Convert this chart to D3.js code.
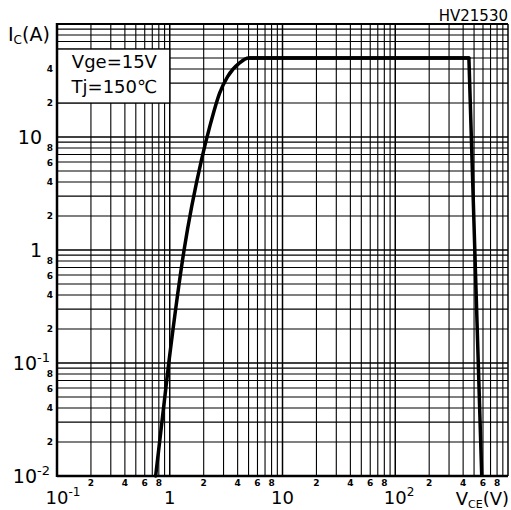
<!DOCTYPE html>
<html><head><meta charset="utf-8">
<script src="https://cdn.jsdelivr.net/npm/d3@7/dist/d3.min.js"></script>
<style>
html,body{margin:0;padding:0;background:#fff;}
svg{display:block;}
text{font-family:"DejaVu Sans",sans-serif;fill:#000;}
</style></head>
<body>
<script>
// ---- data ----
const xDecades = [0.1, 1, 10, 100, 1000];
const yDecades = [0.01, 0.1, 1, 10, 100];
const minorMult = [2, 3, 4, 5, 6, 7, 8, 9];
const xMinorLabels = [2, 4, 6, 8];
const yMinorLabels = [2, 4, 6, 8];
const yTopMinorLabels = [2, 4];
const xDecadeBase = ["10", "1", "10", "10"];
const xDecadeSup = ["-1", "", "", "2"];
const yDecadeBase = ["10", "10", "1", "10"];
const yDecadeSup = ["-2", "-1", "", ""];
const vce = [0.75, 0.98, 1.34, 1.91, 2.26, 2.77, 3.26, 4.16, 5.0, 450, 585];
const ic  = [0.01, 0.1, 1, 6.25, 12.3, 24.5, 34.2, 45.2, 50, 50, 0.01];
const legendLines = ["Vge=15V", "Tj=150\u2103"];
const title = "HV21530";

// ---- layout ----
const W = 511, H = 510;
const L = 57, R = 508, T = 24, B = 476;

const svg = d3.select("body").append("svg").attr("width", W).attr("height", H);
const x = d3.scaleLog().domain([0.1, 1000]).range([L, R]);
const y = d3.scaleLog().domain([0.01, 100]).range([B, T]);

// grid values
const gridX = [], gridY = [];
xDecades.forEach((d, i) => { gridX.push(d); if (i < xDecades.length - 1) minorMult.forEach(m => gridX.push(d * m)); });
yDecades.forEach((d, i) => { gridY.push(d); if (i < yDecades.length - 1) minorMult.forEach(m => gridY.push(d * m)); });

const g = svg.append("g");
g.selectAll("line.gx").data(gridX).enter().append("line")
  .attr("x1", d => x(d)).attr("x2", d => x(d)).attr("y1", T).attr("y2", B)
  .attr("stroke", "#000").attr("stroke-width", d => xDecades.includes(d) ? 1.5 : 1.1);
g.selectAll("line.gy").data(gridY).enter().append("line")
  .attr("y1", d => y(d)).attr("y2", d => y(d)).attr("x1", L).attr("x2", R)
  .attr("stroke", "#000").attr("stroke-width", d => yDecades.includes(d) ? 1.5 : 1.1);

// legend box (white) spanning 0.1..1 V and 20..60 A
g.append("rect").attr("x", x(0.1)).attr("y", y(60)).attr("width", x(1) - x(0.1)).attr("height", y(20) - y(60))
  .attr("fill", "#fff").attr("stroke", "#000").attr("stroke-width", 1.2);
legendLines.forEach((t, i) => {
  g.append("text").attr("x", (x(0.1) + x(1)) / 2 + 1).attr("y", 68 + i * 25)
    .attr("text-anchor", "middle").attr("font-size", 18).text(t);
});

// borders
g.append("line").attr("x1", L).attr("x2", L).attr("y1", T - 1).attr("y2", B + 1).attr("stroke", "#000").attr("stroke-width", 2.5);
g.append("line").attr("x1", L).attr("x2", R).attr("y1", B).attr("y2", B).attr("stroke", "#000").attr("stroke-width", 2.5);
g.append("line").attr("x1", L).attr("x2", R).attr("y1", T).attr("y2", T).attr("stroke", "#000").attr("stroke-width", 1.8);

// curve
const pts = vce.map((v, i) => [v, ic[i]]);
const lineCurve = d3.line().x(d => x(d[0])).y(d => y(d[1])).curve(d3.curveMonotoneX);
const lineLin = d3.line().x(d => x(d[0])).y(d => y(d[1]));
g.append("path").attr("d", lineCurve(pts.slice(0, -1))).attr("fill", "none")
  .attr("stroke", "#000").attr("stroke-width", 3.5).attr("stroke-linejoin", "round").attr("stroke-linecap", "round");
g.append("path").attr("d", lineLin(pts.slice(-3))).attr("fill", "none")
  .attr("stroke", "#000").attr("stroke-width", 3.5).attr("stroke-linejoin", "round");

// x tick labels
xDecades.slice(0, -1).forEach((d, i) => {
  const t = svg.append("text").attr("x", x(d)).attr("y", 504).attr("font-size", 18);
  if (xDecadeSup[i]) {
    t.attr("text-anchor", "start");
    t.append("tspan").text(xDecadeBase[i]);
    t.append("tspan").attr("dy", -8).attr("font-size", 12).text(xDecadeSup[i]);
    const baseW = t.select("tspan").node().getComputedTextLength();
    t.attr("x", x(d) - baseW / 2);
  } else {
    t.attr("text-anchor", "middle").text(xDecadeBase[i]);
  }
  xMinorLabels.forEach(m => {
    svg.append("text").attr("x", x(d * m)).attr("y", 486).attr("text-anchor", "middle")
      .attr("font-size", 9).attr("font-weight", "bold").text(m);
  });
});
// x axis title
const xt = svg.append("text").attr("x", 509).attr("y", 505).attr("text-anchor", "end").attr("font-size", 18);
xt.append("tspan").text("V");
xt.append("tspan").attr("font-size", 11).attr("dy", 3).text("CE");
xt.append("tspan").attr("dy", -3).text("(V)");

// y tick labels
yDecades.slice(0, -1).forEach((d, i) => {
  const t = svg.append("text").attr("y", y(d) + 7).attr("font-size", 19).attr("text-anchor", "end");
  if (yDecadeSup[i]) {
    t.attr("x", 50);
    t.append("tspan").text(yDecadeBase[i]);
    t.append("tspan").attr("dy", -8).attr("font-size", 13).text(yDecadeSup[i]);
  } else {
    t.attr("x", 42).text(yDecadeBase[i]);
  }
  const labs = (i === yDecades.length - 2) ? yTopMinorLabels : yMinorLabels;
  labs.forEach(m => {
    svg.append("text").attr("x", 53).attr("y", y(d * m) + 3.5).attr("text-anchor", "end")
      .attr("font-size", 9).attr("font-weight", "bold").text(m);
  });
});
// y axis title
const yt = svg.append("text").attr("x", 8).attr("y", 41).attr("font-size", 19);
yt.append("tspan").text("I");
yt.append("tspan").attr("font-size", 12).attr("dy", 3).text("C");
yt.append("tspan").attr("dy", -3).text("(A)");

// model title
svg.append("text").attr("x", 508).attr("y", 21).attr("text-anchor", "end").attr("font-size", 15).text(title);
</script>
</body></html>
